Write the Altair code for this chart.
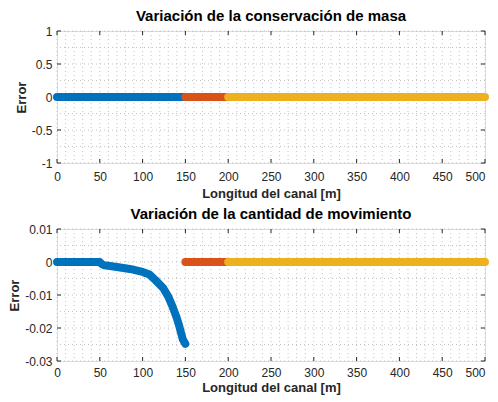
import altair as alt
import pandas as pd

BLUE = "#0072BD"
RED = "#D95319"
YEL = "#EDB120"
FONT = "Liberation Sans"
AXC = "#262626"

# ---- Data: mass conservation error ----
mass_x_blue = [0, 50, 100, 150]
mass_err_blue = [0, 0, 0, 0]
mass_x_red = [150, 175, 200]
mass_err_red = [0, 0, 0]
mass_x_yel = [200, 300, 400, 500]
mass_err_yel = [0, 0, 0, 0]

# ---- Data: momentum error ----
mom_x_blue = [0, 10, 20, 30, 40, 50, 52, 55, 62, 70, 85, 100, 108, 115, 124,
              130, 135, 140, 143, 147, 150]
mom_err_blue = [0, 0, 0, 0, 0, 0, -0.0006, -0.001, -0.0012, -0.0015, -0.0021,
                -0.003, -0.0038, -0.0055, -0.0079, -0.0105, -0.0135, -0.017,
                -0.0196, -0.0235, -0.0248]
mom_x_red = [150, 175, 200]
mom_err_red = [0, 0, 0]
mom_x_yel = [200, 300, 400, 500]
mom_err_yel = [0, 0, 0, 0]

# ---- Ticks ----
x_ticks = [0, 50, 100, 150, 200, 250, 300, 350, 400, 450, 500]
x_minor = list(range(0, 501, 10))
mass_y_ticks = [-1, -0.5, 0, 0.5, 1]
mass_y_minor = [-1, -0.75, -0.5, -0.25, 0, 0.25, 0.5, 0.75, 1]
mom_y_ticks = [-0.03, -0.02, -0.01, 0, 0.01]
mom_y_minor = [-0.03, -0.025, -0.02, -0.015, -0.01, -0.005, 0, 0.005, 0.01]

W, H = 428, 132


def panel(title, series, ydomain, yticks, yminor, xlp, xtp):
    xs = alt.Scale(domain=[0, 500], nice=False, zero=False)
    ys = alt.Scale(domain=ydomain, nice=False, zero=False)
    lab = dict(labelFont=FONT, labelFontSize=12, labelColor=AXC,
               titleFont=FONT, titleFontSize=13, titleFontWeight="bold", titleColor=AXC,
               labelExpr="toString(datum.value)", ticks=False, tickSize=0, grid=False,
               domain=False, labelFlush=False)
    ax_x = alt.Axis(values=x_ticks, title="Longitud del canal [m]", labelPadding=xlp,
                    titlePadding=xtp,
                    labelAlign=alt.ExprRef("datum.value == 500 ? 'right' : 'center'"),
                    **lab)
    ax_y = alt.Axis(values=yticks, title="Error", labelPadding=5, titlePadding=3, **lab)
    X = alt.X("x:Q", scale=xs, axis=ax_x)
    Y = alt.Y("y:Q", scale=ys, axis=ax_y)

    gdash = dict(stroke="#c4c4c4", strokeDash=[1, 3], strokeWidth=1)
    gv = alt.Chart(pd.DataFrame({"x": x_minor})).mark_rule(**gdash).encode(x=X)
    gh = alt.Chart(pd.DataFrame({"y": yminor})).mark_rule(**gdash).encode(y=Y)

    tx = pd.DataFrame({"x": x_ticks})
    ty = pd.DataFrame({"y": yticks})
    tk = dict(stroke=AXC, strokeWidth=1)
    t1 = alt.Chart(tx).mark_rule(**tk).encode(x=X, y=alt.value(H), y2=alt.value(H - 4))
    t2 = alt.Chart(tx).mark_rule(**tk).encode(x=X, y=alt.value(0), y2=alt.value(4))
    t3 = alt.Chart(ty).mark_rule(**tk).encode(y=Y, x=alt.value(0), x2=alt.value(4))
    t4 = alt.Chart(ty).mark_rule(**tk).encode(y=Y, x=alt.value(W), x2=alt.value(W - 4))

    layers = [gv, gh, t1, t2, t3, t4]
    for xv, yv, col in series:
        df = pd.DataFrame({"x": xv, "y": yv})
        layers.append(
            alt.Chart(df).mark_line(strokeWidth=8, strokeCap="round", strokeJoin="round",
                                    color=col, clip=False).encode(x=X, y=Y, order="x:Q")
        )
    return alt.layer(*layers).properties(
        width=W, height=H,
        title=alt.TitleParams(title, fontSize=15, fontWeight="bold", font=FONT,
                              color="black", offset=1, anchor="middle"),
    )


top = panel("Variación de la conservación de masa",
            [(mass_x_blue, mass_err_blue, BLUE), (mass_x_red, mass_err_red, RED),
             (mass_x_yel, mass_err_yel, YEL)],
            [-1, 1], mass_y_ticks, mass_y_minor, 8, 5)
bot = panel("Variación de la cantidad de movimiento",
            [(mom_x_blue, mom_err_blue, BLUE), (mom_x_red, mom_err_red, RED),
             (mom_x_yel, mom_err_yel, YEL)],
            [-0.03, 0.01], mom_y_ticks, mom_y_minor, 6, 3)

chart = alt.vconcat(top, bot, spacing=66, bounds="flush").properties(
    padding={"left": 0, "top": 0, "right": 0, "bottom": 0},
).configure_view(stroke=AXC, strokeWidth=1).configure(background="white")

chart.save("out.html", embed_options={"renderer": "svg", "actions": False})
